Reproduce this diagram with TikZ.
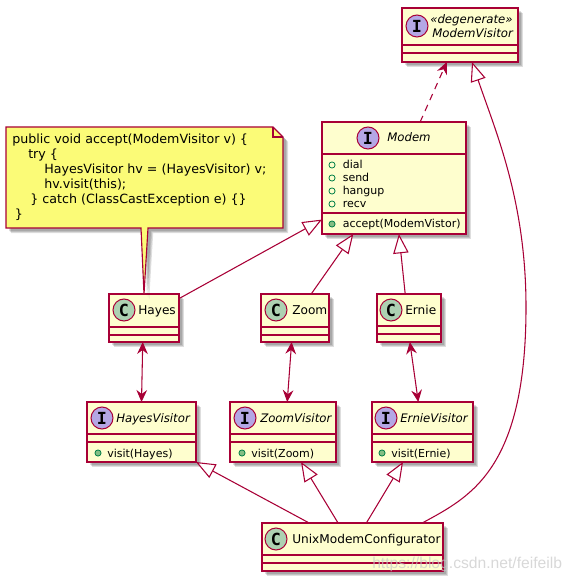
\documentclass[tikz,border=0pt]{standalone}
\usepackage{fontspec}
\setmainfont{DejaVu Sans}
\newfontfamily\markfont{Liberation Sans}
\newfontfamily\spotfont{DejaVu Sans Mono}
\definecolor{umlline}{HTML}{A80036}
\definecolor{umlfill}{HTML}{FEFECE}
\definecolor{umlnote}{HTML}{FBFB77}
\definecolor{spoti}{HTML}{B4A7E5}
\definecolor{spotc}{HTML}{ADD1B2}
\definecolor{publine}{HTML}{038048}
\definecolor{pubfill}{HTML}{84BE84}
\usetikzlibrary{arrows.meta, calc, shadows}

\begin{document}
\begin{tikzpicture}[
  x=0.75pt, y=-0.75pt,
  umlshadow/.style={
    general shadow={shadow xshift=3.9pt, shadow yshift=-3.9pt, fill=black, opacity=0.13},
    general shadow={shadow xshift=3.1pt, shadow yshift=-3.1pt, fill=black, opacity=0.13},
    general shadow={shadow xshift=2.3pt, shadow yshift=-2.3pt, fill=black, opacity=0.13}},
  box/.style 2 args={rectangle, draw=umlline, fill=umlfill, line width=1pt, inner sep=0pt, outer sep=0pt, minimum width=#1*0.75pt, minimum height=#2*0.75pt, umlshadow},
  sepline/.style={draw=umlline, line width=1pt},
  notebox/.style={draw=umlline, fill=umlnote, line width=0.85pt, line join=miter, umlshadow},
  foldline/.style={draw=umlline, line width=0.85pt},
  spot/.style={circle, draw=umlline, line width=0.75pt, inner sep=0pt, outer sep=0pt, minimum size=16.5pt, font=\spotfont\bfseries\fontsize{12.5}{13}\selectfont},
  cname/.style={anchor=base west, inner sep=0pt, font=\fontsize{9.1}{11}\selectfont},
  iname/.style={cname, font=\itshape\fontsize{8.8}{11}\selectfont},
  member/.style={anchor=base west, inner sep=0pt, font=\fontsize{8.25}{10}\selectfont},
  pubfield/.style={circle, draw=publine, line width=0.6pt, inner sep=0pt, minimum size=4.6pt},
  pubmethod/.style={pubfield, fill=pubfill},
  arr/.style={draw=umlline, line width=0.8pt},
  head/.style={arr, {Stealth[length=9pt, width=8pt, inset=3pt, fill=umlline]}-{Stealth[length=9pt, width=8pt, inset=3pt, fill=umlline]}},
  dep/.style={arr, dash pattern=on 5pt off 4pt, -{Stealth[length=9pt, width=8pt, inset=3pt, fill=umlline]}},
  inherit/.style={arr, -{Triangle[open, length=14.5pt, width=11.5pt, fill=white]}},
]
\useasboundingbox (0,0) rectangle (572,581);

%% Note
\coordinate (notetl) at (6,127);
\coordinate (noteft) at (273,127);
\coordinate (notefr) at (283,137);
\coordinate (notebr) at (283,228);
\coordinate (notebl) at (6,228);

%% Classes
\node[box={116}{54}] (visitor) at (460,35)    {};
\node[box={144}{112}] (modem)  at (394,178)   {};
\node[box={70}{48}]  (hayes)   at (144,318)   {};
\node[box={68}{48}]  (zoom)    at (295,318)   {};
\node[box={64}{48}]  (ernie)   at (409,318)   {};
\node[box={109}{60}] (hayesv)  at (141.5,432) {};
\node[box={106}{60}] (zoomv)   at (283,432)   {};
\node[box={101}{60}] (erniev)  at (422.5,432) {};
\node[box={181}{48}] (unix)    at (352.5,547) {};

%% Compartments
\foreach \n/\s in {visitor/45, visitor/53, modem/154, modem/213, hayes/327, hayes/335, zoom/327, zoom/335, ernie/326, ernie/334, hayesv/434, hayesv/442, zoomv/434, zoomv/442, erniev/434, erniev/442, unix/555, unix/563} {
  \draw[sepline] (\n.west |- 0,\s) -- (\n.east |- 0,\s);
}

%% Note body with its wedge
\path[notebox] (notetl) -- (noteft) -- (notefr) -- (notebr) -- (148,228) -- (hayes.90) -- (141,228) -- (notebl) -- cycle;
\draw[foldline] (noteft) -- (273,137) -- (notefr);
\node[anchor=north west, inner sep=0pt, align=left, font=\fontsize{9.5}{11.25}\selectfont] (notetext) at (12,134) {public void accept(ModemVisitor v) \{\\\hspace*{12pt}try \{\\\hspace*{24pt}HayesVisitor hv = (HayesVisitor) v;\\\hspace*{24pt}hv.visit(this);\\\hspace*{13.5pt}\} catch (ClassCastException e) \{\}\\\hspace*{2pt}\}};

%% Spots
\foreach \n/\x/\y in {sv/417/26, sm/368/138, shv/102/418, szv/245/418, sev/386/418} {
  \node[spot, fill=spoti] (\n) at (\x,\y) {I};
}
\foreach \n/\x/\y in {sh/124/310, sz/276/310, se/391/310, su/276/539} {
  \node[spot, fill=spotc] (\n) at (\x,\y) {C};
}

%% Names
\node[iname] (tdeg)  at (430,23.5) {«degenerate»};
\node[iname] (tvis)  at (432,38)   {ModemVisitor};
\node[iname] (tmod)  at (387,142)  {Modem};
\node[cname] (thay)  at (138,314)  {Hayes};
\node[cname] (tzoo)  at (292,314)  {Zoom};
\node[cname] (tern)  at (405,314)  {Ernie};
\node[iname] (thv)   at (116,422)  {HayesVisitor};
\node[iname] (tzv)   at (260,422)  {ZoomVisitor};
\node[iname] (tev)   at (400,422)  {ErnieVisitor};
\node[cname] (tuni)  at (292,543)  {UnixModemConfigurator};

%% Members
\foreach \n/\y/\t in {mdial/168/dial, msend/181/send, mhang/194/hangup, mrecv/207/recv} {
  \node[pubfield] (\n i) at (332,\y-3) {};
  \node[member] (\n) at (342.5,\y) {\t};
}
\node[pubmethod] (macci) at (332,224) {};
\node[member] (macc) at (342.5,227) {accept(ModemVistor)};
\node[pubmethod] (mhvi) at (98,453) {};
\node[member] (mhv) at (107,457) {visit(Hayes)};
\node[pubmethod] (mzvi) at (242,453) {};
\node[member] (mzv) at (251,457) {visit(Zoom)};
\node[pubmethod] (mevi) at (382,453) {};
\node[member] (mev) at (391,457) {visit(Ernie)};

%% Connectors
\draw[dep] (modem.65.9) -- (visitor.244.3);
\draw[inherit] (hayes.29.7) -- (modem.210.8);
\draw[inherit] (zoom.56.3) -- (modem.234.5);
\draw[inherit] (ernie.99.5) -- (modem.275.1);
\draw[head] (hayes.267.6) -- (hayesv.90);
\draw[head] (zoom.262.9) -- (zoomv.82.4);
\draw[head] (ernie.272.4) -- (erniev.98.5);
\draw[inherit] (unix.151.1) -- (hayesv.south east);
\draw[inherit] (unix.121.1) -- (zoomv.301);
\draw[inherit] (unix.60.6) -- (erniev.237);
\draw[inherit] (unix.19.8) .. controls (470,497) and (526,470) .. (526,307) .. controls (526,200) and (495,130) .. (visitor.294);

%% Watermark
\node[anchor=base west, inner sep=0pt, text=black!22, opacity=0.7, font=\markfont\fontsize{11.75}{13}\selectfont] (mark) at (372,568) {https://blog.csdn.net/feifeilb};
\end{tikzpicture}
\end{document}
